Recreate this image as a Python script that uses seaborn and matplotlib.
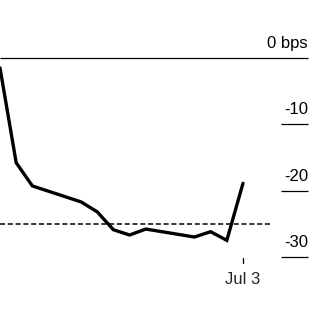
import matplotlib
matplotlib.use("Agg")
import matplotlib.pyplot as plt
import seaborn as sns
import pandas as pd
import numpy as np

sns.set_style("white")
plt.rcParams['font.family'] = ['Liberation Sans', 'DejaVu Sans']

# data (bps)
days = list(range(16))
spread = [-1.5, -15.8, -19.3, -20.1, -20.9, -21.7, -23.2, -25.9, -26.7,
          -25.8, -26.2, -26.6, -27.0, -26.2, -27.5, -18.9]
ref_level = -25
ytick_vals = [0, -10, -20, -30]
ytick_labels = ["0 bps", "-10", "-20", "-30"]
xtick_label = "Jul 3"

df = pd.DataFrame({"day": days, "spread": spread})

fig = plt.figure(figsize=(3.28, 3.20), dpi=100)
ax = fig.add_axes([0, 0, 1, 1])
ax.set_axis_off()

pxu_x = 16.2
pxu_y = 6.63
ax.set_xlim(0, 328 / pxu_x)
ax.set_ylim(-(320 - 58) / pxu_y, 58 / pxu_y)

x_right = 308 / pxu_x
x_short = 281 / pxu_x

# gridlines
ax.plot([0, x_right], [0, 0], color="black", lw=0.9, solid_capstyle="butt")
for v in ytick_vals[1:]:
    ax.plot([x_short, x_right], [v, v], color="black", lw=0.9, solid_capstyle="butt")
for v, lab in zip(ytick_vals, ytick_labels):
    ax.text(x_right, v + 1.5, lab, ha="right", va="baseline", fontsize=12, color="black")

# reference dashed line
ax.plot([0, 270 / pxu_x], [ref_level, ref_level], color="black", lw=1.1,
        linestyle=(0, (3.3, 1.8)))

# main line
sns.lineplot(data=df, x="day", y="spread", ax=ax, color="black", lw=2.4,
             solid_joinstyle="miter", legend=False)
ax.set_axis_off()

# x tick
last = days[-1]
ax.plot([last, last], [-(258 - 58) / pxu_y, -(263 - 58) / pxu_y], color="black", lw=0.9)
ax.text(last, -(280 - 58) / pxu_y, xtick_label, ha="center", va="center", fontsize=12)

fig.savefig("out.png", dpi=100)
